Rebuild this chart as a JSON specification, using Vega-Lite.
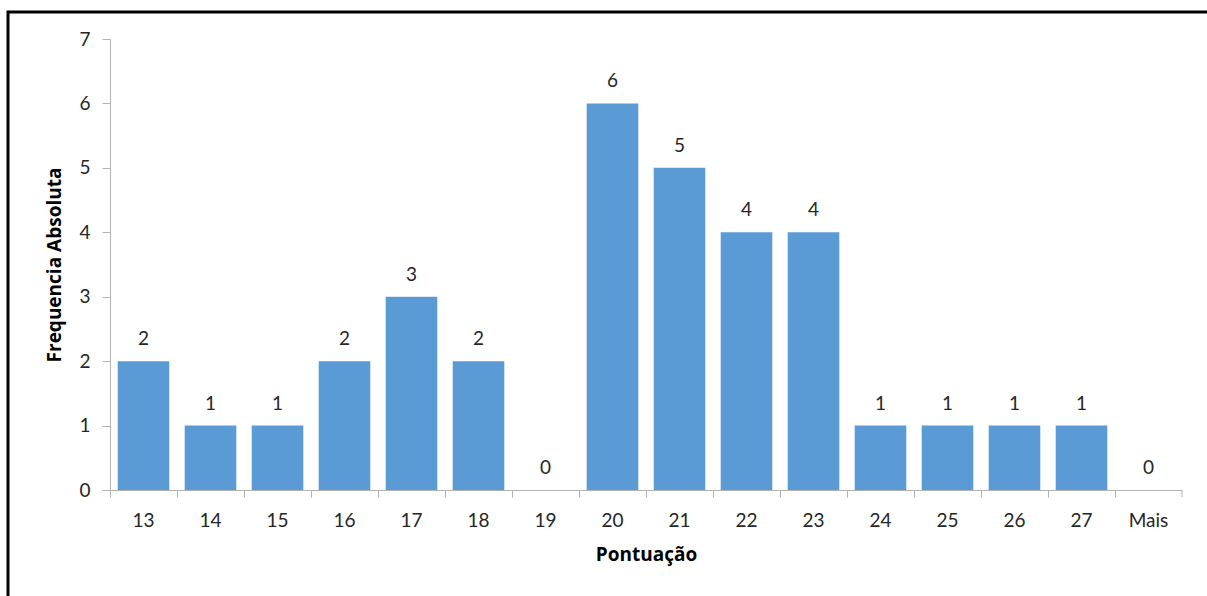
{
  "$schema": "https://vega.github.io/schema/vega-lite/v6.json",
  "autosize": "none",
  "width": 1210,
  "height": 600,
  "padding": {"left": 8, "top": 12, "right": -11, "bottom": -16},
  "background": "white",
  "config": {
    "view": {"stroke": "#000000", "strokeWidth": 3},
    "axis": {
      "domainColor": "#b3b3b3",
      "tickColor": "#b3b3b3",
      "labelFont": "Lato",
      "labelFontSize": 19,
      "labelColor": "#262626",
      "titleFont": "Open Sans",
      "titleFontWeight": "bold",
      "titleFontSize": 19,
      "titleColor": "#000000",
      "grid": false
    }
  },
  "data": {
    "values": [
      {"Pontuacao": "13", "Freq": 2},
      {"Pontuacao": "14", "Freq": 1},
      {"Pontuacao": "15", "Freq": 1},
      {"Pontuacao": "16", "Freq": 2},
      {"Pontuacao": "17", "Freq": 3},
      {"Pontuacao": "18", "Freq": 2},
      {"Pontuacao": "19", "Freq": 0},
      {"Pontuacao": "20", "Freq": 6},
      {"Pontuacao": "21", "Freq": 5},
      {"Pontuacao": "22", "Freq": 4},
      {"Pontuacao": "23", "Freq": 4},
      {"Pontuacao": "24", "Freq": 1},
      {"Pontuacao": "25", "Freq": 1},
      {"Pontuacao": "26", "Freq": 1},
      {"Pontuacao": "27", "Freq": 1},
      {"Pontuacao": "Mais", "Freq": 0}
    ]
  },
  "encoding": {
    "x": {
      "field": "Pontuacao",
      "type": "ordinal",
      "sort": null,
      "scale": {"paddingInner": 0.23, "paddingOuter": 0.115, "range": [102, 1174]},
      "axis": {
        "title": "Pontuação",
        "labelAngle": 0,
        "bandPosition": -0.149,
        "offset": -122,
        "tickSize": 7,
        "labelPadding": 14,
        "titlePadding": 15
      }
    },
    "y": {
      "field": "Freq",
      "type": "quantitative",
      "scale": {"domain": [0, 7], "nice": false, "range": [478, 27]},
      "axis": {
        "title": "Frequencia Absoluta",
        "values": [0, 1, 2, 3, 4, 5, 6, 7],
        "labelOverlap": false,
        "offset": -102,
        "tickSize": 8,
        "labelPadding": 12,
        "titlePadding": 14
      }
    }
  },
  "layer": [
    {"mark": {"type": "bar", "color": "#5B9BD5"}},
    {
      "mark": {"type": "text", "baseline": "bottom", "dy": -12, "font": "Lato", "fontSize": 19, "color": "#262626"},
      "encoding": {"text": {"field": "Freq", "type": "quantitative"}}
    },
    {
      "data": {"values": [{"ultimo": "Mais", "a": 0, "b": -0.11}]},
      "mark": {"type": "rule", "color": "#b3b3b3", "strokeWidth": 1},
      "encoding": {
        "x": {"field": "ultimo", "type": "ordinal", "bandPosition": 1.149},
        "y": {"field": "a", "type": "quantitative"},
        "y2": {"field": "b"}
      }
    }
  ]
}
